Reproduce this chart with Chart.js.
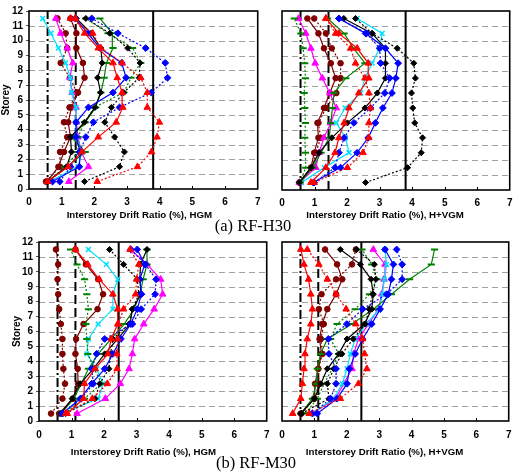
<!DOCTYPE html>
<html><head><meta charset="utf-8">
<script src="https://cdn.jsdelivr.net/npm/chart.js@4.4.0/dist/chart.umd.min.js"></script>
<style>
html,body{margin:0;padding:0;background:#fff;}
#wrap{position:relative;width:521px;height:472px;overflow:hidden;background:#fff;}
canvas{position:absolute;}
.cap{position:absolute;font-family:"Liberation Serif","Times New Roman",serif;font-size:16.5px;color:#000;white-space:nowrap;transform:translate(-50%,-50%);}
</style></head><body>
<div id="wrap">
<canvas id="cTL" width="268" height="222" style="left:0;top:0"></canvas>
<canvas id="cTR" width="250" height="222" style="left:270px;top:0"></canvas>
<canvas id="cBL" width="278" height="230" style="left:0;top:230px"></canvas>
<canvas id="cBR" width="250" height="230" style="left:270px;top:230px"></canvas>
<div class="cap" style="left:253px;top:226px">(a) RF-H30</div>
<div class="cap" style="left:256px;top:463px">(b) RF-M30</div>
</div>
<script>
// ---------- data ----------
const storeys = [0.5,1.5,2.5,3.5,4.5,5.5,6.5,7.5,8.5,9.5,10.5,11.5];
const xTicks = [0,1,2,3,4,5,6,7];
const yTicks = [0,1,2,3,4,5,6,7,8,9,10,11,12];
const xTitleHGM = "Interstorey Drift Ratio (%), HGM";
const xTitleHVGM = "Interstorey Drift Ratio (%), H+VGM";
const yTitle = "Storey";
const captionA = "(a) RF-H30";
const captionB = "(b) RF-M30";

// limit lines (drift ratio %)
const limitsH30 = [0.57, 1.43, 3.8];
const limitsM30 = [0.57, 1.12, 2.45];

// RF-H30, HGM
const h30_hgm_maroonSolid = [0.55,0.9,1.07,1.27,1.2,1.3,1.5,1.7,1.65,1.45,1.45,1.27];
const h30_hgm_maroonDot   = [0.52,0.95,0.95,1.17,1.07,1.24,1.47,1.25,0.97,1.17,1.12,0.87];
const h30_hgm_cyan        = [0.62,1.5,1.62,1.45,1.44,1.44,1.3,1.27,1.12,0.9,0.67,0.42];
const h30_hgm_magenta     = [1.22,1.82,1.6,1.5,1.45,1.44,1.32,1.25,1.34,1.17,0.97,0.82];
const h30_hgm_redSolid    = [0.57,1.2,1.62,2.12,2.67,2.87,2.85,2.7,2.57,2.12,1.7,1.42];
const h30_hgm_redDot      = [2.09,3.32,3.75,3.92,3.99,3.62,3.62,3.42,2.85,2.2,1.95,1.27];
const h30_hgm_blueSolid   = [0.72,1.54,1.57,1.44,1.44,1.82,2.57,2.97,2.84,2.17,1.8,1.42];
const h30_hgm_blueDot     = [0.94,1.27,1.55,1.74,1.97,2.77,3.74,4.24,4.17,3.57,2.72,1.92];
const h30_hgm_blackSolid  = [0.57,1.15,1.3,1.27,1.7,2.02,2.19,2.1,2.24,2.2,1.9,1.45];
const h30_hgm_blackDot    = [1.7,2.77,2.92,2.62,2.32,2.52,2.9,3.37,3.4,3.02,2.47,1.74];
const h30_hgm_greenSolid  = [0.57,1.17,1.72,1.3,1.72,2.04,2.2,2.3,2.37,2.57,2.55,2.17];
const h30_hgm_greenDot    = [0.6,1.1,1.5,1.5,1.7,2.0,2.9,3.12,3.42,3.17,2.42,1.74];

// RF-H30, H+VGM
const h30_hvgm_maroonSolid = [0.53,0.89,0.99,1.12,1.09,1.29,1.47,1.65,1.5,1.29,1.12,0.78];
const h30_hvgm_maroonDot   = [0.55,0.94,1.04,1.19,1.12,1.35,1.67,1.8,1.8,1.53,1.35,0.99];
const h30_hvgm_cyan        = [0.6,1.3,2.06,1.95,1.67,1.94,2.42,2.55,2.77,3.0,3.08,2.31];
const h30_hvgm_magenta     = [0.53,1.04,1.14,1.29,1.5,1.67,1.47,1.24,1.02,0.89,0.73,0.51];
const h30_hvgm_redSolid    = [0.89,1.35,1.63,1.75,1.91,2.06,2.36,2.67,2.65,2.31,1.75,1.35];
const h30_hvgm_redDot      = [0.99,2.01,2.49,2.67,2.67,2.72,2.67,2.55,2.26,2.11,1.65,1.35];
const h30_hvgm_blueSolid   = [0.96,1.8,2.31,2.65,2.87,3.1,3.38,3.5,3.57,3.18,2.57,1.75];
const h30_hvgm_blueDot     = [0.99,1.63,1.75,1.91,2.21,2.72,3.16,3.31,3.03,3.0,2.6,1.75];
const h30_hvgm_blackSolid  = [0.53,0.89,1.14,1.53,2.01,2.55,2.93,3.18,3.18,3.18,2.77,1.9];
const h30_hvgm_blackDot    = [2.57,3.86,4.28,4.32,4.08,4.02,3.98,4.1,4.05,3.54,2.77,2.26];
const h30_hvgm_greenSolid  = [0.55,0.95,1.2,1.45,1.5,1.55,1.6,1.96,2.55,2.2,1.91,1.4];
const h30_hvgm_greenDot    = [0.55,0.73,0.72,0.7,0.72,0.7,0.68,0.72,0.7,0.65,0.58,0.38];

// RF-M30, HGM
const m30_hgm_maroonSolid = [0.62,1.04,1.2,1.19,1.12,1.14,1.37,1.8,1.97,1.82,1.44,1.12];
const m30_hgm_maroonDot   = [0.37,0.72,0.8,0.75,0.72,0.72,0.67,0.62,0.59,0.57,0.59,0.52];
const m30_hgm_cyan        = [0.72,1.82,1.97,1.77,1.47,1.52,1.82,2.27,2.27,2.42,2.07,1.52];
const m30_hgm_magenta     = [1.17,2.04,2.5,2.77,2.87,2.94,3.22,3.54,3.8,3.74,3.32,2.82];
const m30_hgm_redSolid    = [0.87,1.37,1.4,1.72,2.12,2.22,2.42,2.42,2.27,1.85,1.5,1.12];
const m30_hgm_redDot      = [0.82,1.64,2.1,2.4,2.39,2.42,2.44,2.6,2.97,3.0,3.07,2.8];
const m30_hgm_blueSolid   = [0.72,1.27,1.62,2.02,2.27,2.52,2.82,3.02,3.15,3.1,3.25,3.02];
const m30_hgm_blueDot     = [0.72,1.3,1.67,1.62,1.77,2.02,2.87,3.14,3.57,3.6,3.27,2.82];
const m30_hgm_blackSolid  = [0.67,1.02,1.27,1.67,2.02,2.42,2.8,2.87,3.14,3.1,3.12,3.32];
const m30_hgm_blackDot    = [0.82,1.72,1.87,2.15,2.2,2.27,2.77,2.87,3.07,3.02,2.6,2.17];
const m30_hgm_greenSolid  = [0.67,1.07,1.3,1.52,1.82,2.22,2.62,2.92,3.1,3.2,3.32,3.32];
const m30_hgm_greenDot    = [0.77,1.4,1.92,1.7,1.5,1.47,1.44,1.52,1.47,1.4,1.17,0.97];

// RF-M30, H+VGM
const m30_hvgm_maroonSolid = [0.58,0.99,1.02,1.12,1.22,1.16,1.24,1.4,1.67,1.86,1.7,1.33];
const m30_hvgm_maroonDot   = [0.6,1.0,1.14,1.12,1.25,1.2,1.29,1.14,1.22,1.67,2.16,2.28];
const m30_hvgm_cyan        = [0.94,1.6,1.86,2.01,2.11,2.26,2.6,3.0,3.1,3.16,3.23,3.18];
const m30_hvgm_magenta     = [0.94,1.65,1.91,2.16,2.21,2.36,2.67,2.98,3.08,3.15,3.18,2.82];
const m30_hvgm_redSolid    = [0.33,0.58,0.63,0.68,0.71,0.78,0.89,0.94,0.89,0.82,0.68,0.58];
const m30_hvgm_redDot      = [0.84,1.8,2.36,2.62,2.55,2.49,2.28,1.98,1.67,1.4,1.14,0.78];
const m30_hvgm_blueSolid   = [1.09,1.7,2.01,2.08,2.26,2.49,2.77,3.03,3.28,3.38,3.44,3.18];
const m30_hvgm_blueDot     = [0.94,1.5,1.67,1.67,1.45,1.43,2.0,2.49,3.23,3.71,3.71,3.54];
const m30_hvgm_blackSolid  = [0.58,1.0,1.2,1.4,1.75,2.01,2.55,2.77,2.82,2.75,2.42,1.8];
const m30_hvgm_blackDot    = [0.6,1.45,1.4,1.6,1.85,2.2,2.57,2.69,2.8,2.9,2.85,2.3];
const m30_hvgm_greenSolid  = [0.58,0.94,1.06,1.09,1.19,1.4,2.16,2.82,3.38,3.94,4.61,4.71];
const m30_hvgm_greenDot    = [0.72,1.09,1.3,1.55,1.75,1.5,1.7,2.26,2.7,2.93,2.77,2.47];

// ---------- styling ----------
const FONT = '"Liberation Sans", Arial, sans-serif';
const STYLE = {
  maroon:  {color:'#800000', point:'circle',   r:2.8, pbw:1},
  red:     {color:'#ff0000', point:'triangle', r:3.8, pbw:1},
  blue:    {color:'#0000ff', point:'rectRot',  r:3.4, pbw:1},
  black:   {color:'#000000', point:'rectRot',  r:3.0, pbw:1},
  green:   {color:'#008000', point:'line',     r:3.6, pbw:2},
  cyan:    {color:'#00e0ff', point:'crossRot', r:3.4, pbw:1.6},
  magenta: {color:'#ff00ff', point:'triangle', r:3.8, pbw:1}
};
function series(values, kind, dotted) {
  const s = STYLE[kind];
  return {
    data: values.map((v, i) => ({x: v, y: storeys[i]})),
    showLine: true, fill: false, tension: 0,
    borderColor: s.color, backgroundColor: s.color, borderWidth: 1.2,
    borderDash: dotted ? [2, 2] : [],
    pointStyle: s.point, pointRadius: s.r, pointHoverRadius: s.r,
    pointBackgroundColor: s.color, pointBorderColor: s.color, pointBorderWidth: s.pbw
  };
}
function limitLines(limits) {
  const dashes = [[9,3,2,3],[9,4],[]];
  return limits.map((x, i) => ({
    data: [{x: x, y: yTicks[0]}, {x: x, y: yTicks[yTicks.length-1]}],
    showLine: true, fill: false, borderColor: '#000', borderWidth: 2,
    borderDash: dashes[i], pointRadius: 0, pointHoverRadius: 0
  }));
}
function panel(p) {
  return [
    series(p.redDot, 'red', true), series(p.redSolid, 'red', false),
    series(p.blueDot, 'blue', true), series(p.blueSolid, 'blue', false),
    series(p.blackDot, 'black', true), series(p.blackSolid, 'black', false),
    series(p.greenDot, 'green', true), series(p.greenSolid, 'green', false),
    series(p.cyan, 'cyan', false), series(p.magenta, 'magenta', false),
    series(p.maroonDot, 'maroon', true), series(p.maroonSolid, 'maroon', false),
    ...limitLines(p.limits)
  ];
}

const framePlugin = {
  id: 'frame',
  beforeDatasetsDraw(chart) {
    const {ctx, chartArea: a, scales: {y}} = chart;
    ctx.save();
    ctx.strokeStyle = '#a0a0a0'; ctx.lineWidth = 1; ctx.setLineDash([6, 4]);
    yTicks.slice(1, -1).forEach(v => {
      const py = Math.round(y.getPixelForValue(v)) + 0.5;
      ctx.beginPath(); ctx.moveTo(a.left, py); ctx.lineTo(a.right, py); ctx.stroke();
    });
    ctx.restore();
  },
  afterDraw(chart) {
    const {ctx, chartArea: a, scales: {x}} = chart;
    ctx.save();
    ctx.strokeStyle = '#000'; ctx.lineWidth = 1.6; ctx.setLineDash([]);
    ctx.strokeRect(a.left, a.top, a.right - a.left, a.bottom - a.top);
    ctx.lineWidth = 1;
    xTicks.slice(1, -1).forEach(v => {
      const px = Math.round(x.getPixelForValue(v)) + 0.5;
      ctx.beginPath(); ctx.moveTo(px, a.bottom); ctx.lineTo(px, a.bottom - 3); ctx.stroke();
    });
    ctx.restore();
  }
};

function makeChart(id, datasets, cfg) {
  return new Chart(document.getElementById(id), {
    type: 'scatter',
    data: {datasets: datasets},
    options: {
      responsive: false, animation: false, devicePixelRatio: 1,
      layout: {padding: {left: 0, right: cfg.padRight, top: cfg.padTop, bottom: 0}},
      plugins: {legend: {display: false}, tooltip: {enabled: false}},
      scales: {
        x: {
          type: 'linear', min: xTicks[0], max: xTicks[xTicks.length-1],
          afterBuildTicks: s => { s.ticks = xTicks.map(v => ({value: v})); },
          grid: {display: false, drawTicks: false}, border: {display: false},
          ticks: {padding: cfg.xTickPad, color: '#000', maxRotation: 0, autoSkip: false,
                  font: {family: FONT, size: 10, weight: 'bold'}},
          title: {display: true, text: cfg.xTitle, color: '#000',
                  font: {family: FONT, size: 9.7, weight: 'bold'}, padding: {top: 0, bottom: cfg.xTitlePad}},
          afterFit: s => { s.height = cfg.xH; }
        },
        y: {
          type: 'linear', min: yTicks[0], max: yTicks[yTicks.length-1],
          afterBuildTicks: s => { s.ticks = yTicks.map(v => ({value: v})); },
          grid: {display: cfg.showY, drawOnChartArea: false, drawTicks: cfg.showY, tickLength: 3, color: '#555'},
          border: {display: false},
          ticks: {display: cfg.showY, padding: 3, color: '#000', autoSkip: false,
                  font: {family: FONT, size: 10, weight: 'bold'}},
          title: {display: cfg.showY, text: yTitle, color: '#000',
                  font: {family: FONT, size: 10, weight: 'bold'}, padding: {top: cfg.yTitlePad, bottom: 0}},
          afterFit: s => { s.width = cfg.yW; }
        }
      }
    },
    plugins: [framePlugin]
  });
}

const pad = '\u00a0';
makeChart('cTL', panel({
  maroonSolid: h30_hgm_maroonSolid, maroonDot: h30_hgm_maroonDot, cyan: h30_hgm_cyan, magenta: h30_hgm_magenta,
  redSolid: h30_hgm_redSolid, redDot: h30_hgm_redDot, blueSolid: h30_hgm_blueSolid, blueDot: h30_hgm_blueDot,
  blackSolid: h30_hgm_blackSolid, blackDot: h30_hgm_blackDot, greenSolid: h30_hgm_greenSolid, greenDot: h30_hgm_greenDot,
  limits: limitsH30
}), {padRight: 6, padTop: 11, xH: 33, yW: 29, showY: true, yTitlePad: 0, xTickPad: 7.5, xTitlePad: 1.2,
     xTitle: xTitleHGM + pad.repeat(3)});

makeChart('cTR', panel({
  maroonSolid: h30_hvgm_maroonSolid, maroonDot: h30_hvgm_maroonDot, cyan: h30_hvgm_cyan, magenta: h30_hvgm_magenta,
  redSolid: h30_hvgm_redSolid, redDot: h30_hvgm_redDot, blueSolid: h30_hvgm_blueSolid, blueDot: h30_hvgm_blueDot,
  blackSolid: h30_hvgm_blackSolid, blackDot: h30_hvgm_blackDot, greenSolid: h30_hvgm_greenSolid, greenDot: h30_hvgm_greenDot,
  limits: limitsH30
}), {padRight: 8, padTop: 11, xH: 32, yW: 12, showY: false, yTitlePad: 0, xTickPad: 7.5, xTitlePad: 1.2,
     xTitle: xTitleHVGM + pad.repeat(8)});

makeChart('cBL', panel({
  maroonSolid: m30_hgm_maroonSolid, maroonDot: m30_hgm_maroonDot, cyan: m30_hgm_cyan, magenta: m30_hgm_magenta,
  redSolid: m30_hgm_redSolid, redDot: m30_hgm_redDot, blueSolid: m30_hgm_blueSolid, blueDot: m30_hgm_blueDot,
  blackSolid: m30_hgm_blackSolid, blackDot: m30_hgm_blackDot, greenSolid: m30_hgm_greenSolid, greenDot: m30_hgm_greenDot,
  limits: limitsM30
}), {padRight: 5, padTop: 12, xH: 39, yW: 39, showY: true, yTitlePad: 10.8, xTickPad: 8.5, xTitlePad: 1.5,
     xTitle: xTitleHGM + pad.repeat(7)});

makeChart('cBR', panel({
  maroonSolid: m30_hvgm_maroonSolid, maroonDot: m30_hvgm_maroonDot, cyan: m30_hvgm_cyan, magenta: m30_hvgm_magenta,
  redSolid: m30_hvgm_redSolid, redDot: m30_hvgm_redDot, blueSolid: m30_hvgm_blueSolid, blueDot: m30_hvgm_blueDot,
  blackSolid: m30_hvgm_blackSolid, blackDot: m30_hvgm_blackDot, greenSolid: m30_hvgm_greenSolid, greenDot: m30_hvgm_greenDot,
  limits: limitsM30
}), {padRight: 8, padTop: 12, xH: 39, yW: 12, showY: false, yTitlePad: 0, xTickPad: 8.5, xTitlePad: 1.5,
     xTitle: xTitleHVGM + pad.repeat(8)});

document.querySelectorAll('.cap')[0].textContent = captionA;
document.querySelectorAll('.cap')[1].textContent = captionB;
</script>
</body></html>
